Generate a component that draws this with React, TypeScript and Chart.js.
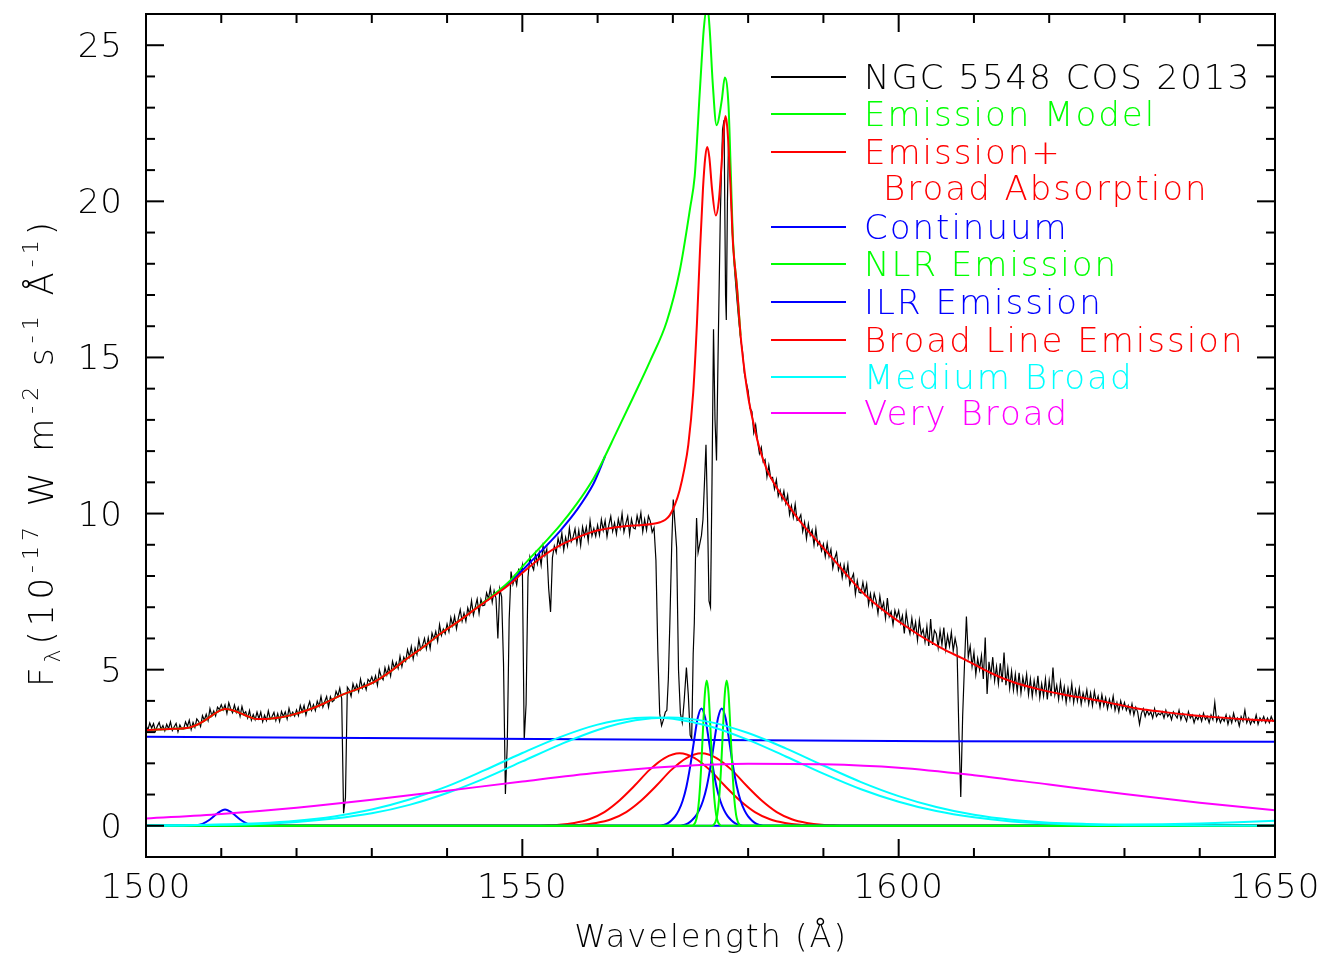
import { useEffect, useRef } from "react";
import { Chart, registerables } from "chart.js";

Chart.register(...registerables);

// ---------- axes ----------
const X_MIN = 1500;
const X_MAX = 1650;
const Y_MIN = -1;
const Y_MAX = 26;
const xMajorTicks = [1500, 1550, 1600, 1650];
const xMinorTicks = [1510, 1520, 1530, 1540, 1560, 1570, 1580, 1590, 1610, 1620, 1630, 1640];
const yMajorTicks = [0, 5, 10, 15, 20, 25];
const yMinorTicks = [1, 2, 3, 4, 6, 7, 8, 9, 11, 12, 13, 14, 16, 17, 18, 19, 21, 22, 23, 24];
const xTitle = "Wavelength (Å)";

// ---------- observed spectrum (black) ----------
const obsAStart = 1500.0;
const obsAStep = 0.25;
const obsAFlux = [
  3.22, 3.07, 3.29, 3.13, 3.27, 3.03, 3.19, 3.31, 3.09, 3.21, 3.04, 3.25, 3.11, 3.33, 3.05, 3.17, 3.28, 3.01, 3.23, 3.10,
  3.10, 3.33, 3.18, 3.38, 3.08, 3.31, 3.15, 3.42, 3.34, 3.18, 3.53, 3.38, 3.57, 3.37, 3.75, 3.52, 3.68, 3.52, 3.80, 3.72,
  3.88, 3.71, 3.87, 3.60, 3.94, 3.75, 3.62, 3.87, 3.63, 3.79, 3.51, 3.82, 3.58, 3.65, 3.45, 3.69, 3.38, 3.56, 3.40, 3.64,
  3.43, 3.64, 3.33, 3.54, 3.37, 3.68, 3.42, 3.50, 3.63, 3.37, 3.59, 3.34, 3.66, 3.50, 3.65, 3.42, 3.76, 3.52, 3.64, 3.51,
  3.71, 3.53, 3.85, 3.65, 3.85, 3.55, 3.79, 3.98, 3.70, 3.88, 3.69, 3.99, 3.83, 4.14, 3.80, 3.98, 4.14, 3.80, 4.13, 3.97,
  4.02, 4.31, 4.16, 4.41, 4.07, 0.40, 0.90, 4.44, 4.35, 4.15, 4.55, 4.34, 4.52, 4.30, 4.70, 4.41, 4.56, 4.36, 4.69, 4.61,
  4.77, 4.58, 4.80, 4.50, 4.99, 4.78, 4.68, 5.06, 4.83, 5.10, 4.80, 5.27, 5.05, 5.23, 5.04, 5.43, 5.10, 5.40, 5.27, 5.64,
  5.41, 5.74, 5.35, 5.69, 5.49, 5.96, 5.64, 5.78, 6.00, 5.67, 6.02, 5.68, 6.17, 5.98, 6.22, 5.91, 6.44, 6.10, 6.30, 6.15,
  6.46, 6.22, 6.67, 6.41, 6.71, 6.31, 6.65, 6.92, 6.55, 6.81, 6.55, 6.98, 6.77, 7.21, 6.75, 7.01, 7.26, 6.80, 7.25, 7.05,
  7.07, 7.46, 7.27, 7.62, 7.16, 7.53, 7.28, 6.00, 7.59, 7.33, 5.20, 1.02, 2.60, 6.60, 8.14, 7.74, 7.98, 7.72, 8.20, 8.09,
  8.34, 2.75, 3.90, 7.96, 8.61, 8.35, 8.20, 8.71, 8.39, 8.75, 8.35, 8.96, 8.65, 8.86, 7.60, 6.85, 8.59, 8.96, 8.75, 9.21,
  8.96, 9.37, 8.83, 9.24, 8.96, 9.53, 9.10, 9.25, 9.51, 9.05, 9.46, 8.98, 9.57, 9.28, 9.57, 9.12, 9.77, 9.29, 9.52, 9.27,
  9.63, 9.31, 9.81, 9.46, 9.77, 9.26, 9.64, 9.91, 9.43, 9.70, 9.35, 9.82, 9.53, 10.00, 9.41, 9.68, 9.91, 9.33, 9.82, 9.54,
  9.51, 9.93, 9.65, 10.02, 9.42, 9.81, 9.47, 9.92, 9.76, 9.40, 9.55, 8.50,
];
const obsCoreWave = [
  1568.0, 1568.25, 1568.5, 1568.75, 1569.0, 1569.2, 1569.4, 1569.6, 1569.85, 1570.05, 1570.3, 1570.5, 1570.75,
  1571.0, 1571.25, 1571.5, 1571.8, 1572.05, 1572.3, 1572.5, 1572.7, 1572.85, 1573.0, 1573.15, 1573.35, 1573.55,
  1573.8, 1574.0, 1574.2, 1574.4, 1574.6, 1574.8, 1575.0, 1575.2, 1575.4, 1575.6, 1575.8, 1576.0, 1576.3, 1576.6,
  1576.8, 1577.0, 1577.1, 1577.25, 1577.4, 1577.6, 1577.9, 1578.2, 1578.5,
];
const obsCoreFlux = [
  5.6, 3.6, 3.21, 3.4, 3.64, 3.7, 4.7, 6.5, 9.0, 10.45, 9.6, 8.9, 5.0,
  3.6, 3.3, 4.0, 5.07, 4.2, 2.9, 2.78, 5.5, 6.5, 8.5, 9.86, 8.75, 9.0,
  9.3, 9.81, 11.0, 12.2, 10.0, 7.2, 7.0, 11.0, 15.9, 13.0, 11.7, 15.0, 19.5, 22.3,
  22.6, 17.0, 16.2, 20.0, 22.0, 21.0, 19.0, 17.8, 16.9,
];
const obsCStart = 1578.75;
const obsCStep = 0.25;
const obsCFlux = [
  16.20, 15.60, 15.20, 14.50, 14.20,
  13.93, 13.37, 13.27, 12.59, 12.84, 12.33, 11.92, 12.12, 11.65, 11.73, 11.18, 11.55, 11.13, 11.16, 10.79, 11.08, 10.56, 10.75, 10.45, 10.72,
  10.32, 10.59, 9.97, 10.25, 9.88, 10.30, 9.78, 9.82, 9.96, 9.43, 9.72, 9.20, 9.66, 9.30, 9.47, 9.00, 9.51, 8.99, 9.11, 8.81,
  9.02, 8.62, 9.04, 8.62, 8.85, 8.26, 8.56, 8.75, 8.19, 8.38, 7.95, 8.35, 7.98, 8.37, 7.72, 7.91, 8.07, 7.42, 7.84, 7.48,
  7.45, 7.80, 7.44, 7.74, 7.09, 7.43, 7.05, 7.44, 7.21, 6.80, 7.36, 6.94, 7.15, 6.65, 7.29, 6.70, 6.86, 6.44, 6.90, 6.67,
  6.89, 6.49, 6.73, 6.16, 6.83, 6.42, 6.16, 6.65, 6.20, 6.52, 5.95, 6.58, 6.13, 6.29, 5.89, 6.38, 5.76, 6.62, 5.79, 6.26,
  6.15, 5.70, 6.25, 5.80, 6.35, 5.65, 6.10, 5.75, 6.20, 5.60, 6.00, 5.70, 3.00, 0.92, 3.50, 5.20, 6.70, 5.40, 5.75, 5.10,
  5.55, 4.85, 5.35, 5.00, 5.45, 4.70, 6.03, 4.22, 5.25, 4.80, 5.40, 4.65, 5.10, 4.55, 5.20, 4.60, 5.55, 4.50, 5.05, 4.40,
  4.95, 4.35, 4.85, 4.30, 4.90, 4.25, 4.75, 4.40, 4.85, 4.20, 4.70, 4.15, 4.65, 4.25, 4.80, 4.10, 4.55, 4.15, 4.70, 4.05,
  4.65, 4.15, 5.07, 4.20, 4.50, 4.05, 4.60, 4.10, 4.45, 3.95, 4.40, 4.05, 4.55, 3.95, 4.35, 4.00, 4.40, 3.90, 4.25, 4.00,
  4.35, 3.90, 4.25, 3.85, 4.30, 3.95, 4.15, 3.80, 4.20, 3.85, 4.10, 3.75, 4.05, 3.80, 4.15, 3.70, 3.95, 3.65, 4.00, 3.75,
  3.95, 3.70, 3.85, 3.60, 3.90, 3.55, 3.80, 3.65, 3.25, 3.60, 3.75, 3.50, 3.70, 3.55, 3.65, 3.45, 3.75, 3.50, 3.60, 3.55,
  3.65, 3.45, 3.70, 3.50, 3.60, 3.40, 3.65, 3.55, 3.45, 3.70, 3.40, 3.60, 3.50, 3.35, 3.65, 3.45, 3.55, 3.30, 3.50, 3.40,
  3.55, 3.35, 3.60, 3.40, 3.50, 3.30, 3.55, 3.40, 3.95, 3.35, 3.50, 3.30, 3.45, 3.35, 3.55, 3.25, 3.50, 3.30, 3.60, 3.35,
  3.45, 3.20, 3.50, 3.35, 3.70, 3.30, 3.45, 3.25, 3.40, 3.30, 3.55, 3.25, 3.45, 3.35, 3.50, 3.30, 3.45, 3.30, 3.50, 3.35, 3.40,
];

// ---------- emission model (green) ----------
const modelWave = [
  1500, 1503, 1505.8, 1507, 1508.1, 1509.3, 1510.5, 1511.5, 1512.5, 1513.6, 1514.7, 1516, 1517.8, 1519.5, 1521.3,
  1523.5, 1525.8, 1528, 1530.2, 1532.4, 1534.6, 1536.8, 1539.1, 1541.7, 1544.4, 1547, 1548.4, 1550.6, 1552.8, 1555.0,
  1557.2, 1559.4, 1560.3, 1562.5, 1564.7, 1567, 1569.2, 1570.9, 1572.3, 1572.9, 1573.2, 1573.5, 1573.8, 1574.1, 1574.57,
  1574.9, 1575.3, 1575.8, 1576.5, 1576.9, 1577.4, 1577.7, 1578.0, 1578.5, 1579.0,
];
const modelFlux = [
  3.07, 3.10, 3.15, 3.26, 3.42, 3.62, 3.74, 3.70, 3.61, 3.50, 3.42, 3.42, 3.47, 3.56, 3.69,
  3.90, 4.17, 4.37, 4.59, 4.93, 5.34, 5.72, 6.15, 6.58, 7.07, 7.56, 7.86, 8.46, 9.03, 9.62,
  10.3, 11.1, 11.5, 12.6, 13.71, 14.9, 16.16, 17.76, 19.8, 20.8, 21.9, 23.2, 24.4, 25.5, 26.3,
  25.48, 23.77, 22.44, 23.24, 23.97, 23.03, 20.9, 18.7, 17.3, 15.7,
];

// ---------- emission + broad absorption (red) ----------
const absWave = [
  1500, 1503, 1505.8, 1507, 1508.1, 1509.3, 1510.5, 1511.5, 1512.5, 1513.6, 1514.7, 1516, 1517.8, 1519.5, 1521.3,
  1523.5, 1525.8, 1528, 1530.2, 1532.4, 1534.6, 1536.8, 1539.1, 1541.7, 1544.4, 1547, 1548.4, 1550.1, 1552.8, 1555.0,
  1557.2, 1559.4, 1561.6, 1563.9, 1566, 1567.4, 1568.3, 1569.0, 1569.6, 1570.3, 1570.9, 1571.5, 1572.05, 1572.7, 1573.2,
  1573.6, 1574.0, 1574.3, 1574.57, 1574.85, 1575.2, 1575.7, 1576.1, 1576.5, 1576.8, 1577.0, 1577.25, 1577.6, 1578.0,
  1578.5, 1579.0, 1579.5, 1580.0, 1580.7, 1581.5, 1582.5, 1583.5, 1585.1, 1586.9, 1588.5, 1591.3, 1595.7, 1600.2,
  1605.5, 1609, 1612.1, 1615, 1618.8, 1622, 1625.4, 1628.8, 1632.1, 1635.4, 1638.7, 1642, 1645.3, 1650,
];
const absFlux = [
  3.07, 3.10, 3.15, 3.26, 3.42, 3.62, 3.74, 3.70, 3.61, 3.50, 3.42, 3.42, 3.47, 3.56, 3.69,
  3.90, 4.17, 4.37, 4.59, 4.93, 5.34, 5.72, 6.15, 6.58, 7.06, 7.5, 7.75, 8.12, 8.65, 8.98,
  9.22, 9.42, 9.53, 9.6, 9.63, 9.67, 9.72, 9.8, 9.95, 10.3, 10.75, 11.4, 12.2, 13.87, 16.1,
  18.4, 20.4, 21.4, 21.74, 21.4, 20.4, 19.55, 20.0, 21.3, 22.4, 22.73, 22.3, 20.8, 18.6,
  17.3, 15.7, 14.6, 13.75, 12.9, 12.1, 11.4, 10.95, 10.35, 9.75, 9.3, 8.54, 7.36, 6.51,
  5.71, 5.3, 4.91, 4.62, 4.36, 4.2, 4.06, 3.9, 3.74, 3.64, 3.55, 3.48, 3.42, 3.36,
];

// ---------- blue model branch seen next to the green model ----------
const branchWave = [1544.4, 1547, 1548.4, 1550.6, 1552.8, 1555.0, 1557.2, 1559.4, 1560.3, 1561.0];
const branchFlux = [7.07, 7.53, 7.80, 8.33, 8.87, 9.44, 10.1, 10.93, 11.42, 11.85];

// ---------- continuum (blue) ----------
const contWave = [1500, 1552, 1605, 1650];
const contFlux = [2.85, 2.78, 2.71, 2.69];

// ---------- NLR emission (green) ----------
const nlr1Wave = [1500, 1572.5, 1572.75, 1573.0, 1573.25, 1573.5, 1573.75, 1574.0, 1574.25, 1574.5, 1574.75, 1575.0, 1575.25, 1575.5, 1575.75, 1576.0, 1576.25, 1576.5, 1650];
const nlr1Flux = [0, 0, 0.03, 0.12, 0.35, 0.89, 1.83, 3.07, 4.22, 4.65, 4.22, 3.07, 1.83, 0.89, 0.35, 0.12, 0.03, 0, 0];
const nlr2Wave = [1500, 1575.15, 1575.4, 1575.65, 1575.9, 1576.15, 1576.4, 1576.65, 1576.9, 1577.15, 1577.4, 1577.65, 1577.9, 1578.15, 1578.4, 1578.65, 1578.9, 1579.15, 1650];
const nlr2Flux = [0, 0, 0.03, 0.12, 0.35, 0.89, 1.83, 3.07, 4.22, 4.65, 4.22, 3.07, 1.83, 0.89, 0.35, 0.12, 0.03, 0, 0];

// ---------- ILR emission (blue) ----------
const ilr1Wave = [1500, 1568.3, 1568.8, 1569.3, 1569.8, 1570.3, 1570.8, 1571.3, 1571.8, 1572.3, 1572.8, 1573.3, 1573.8, 1574.3, 1574.8, 1575.3, 1575.8, 1576.3, 1576.8, 1577.3, 1577.8, 1578.3, 1578.8, 1579.3, 1650];
const ilr1Flux = [0, 0, 0.03, 0.08, 0.17, 0.3, 0.5, 0.8, 1.25, 1.9, 2.7, 3.45, 3.76, 3.45, 2.7, 1.9, 1.25, 0.8, 0.5, 0.3, 0.17, 0.08, 0.03, 0, 0];
const ilr2Wave = [1500, 1571.0, 1571.5, 1572.0, 1572.5, 1573.0, 1573.5, 1574.0, 1574.5, 1575.0, 1575.5, 1576.0, 1576.5, 1577.0, 1577.5, 1578.0, 1578.5, 1579.0, 1579.5, 1580.0, 1580.5, 1581.0, 1581.5, 1582.0, 1650];
const ilr2Flux = [0, 0, 0.03, 0.08, 0.17, 0.3, 0.5, 0.8, 1.25, 1.9, 2.7, 3.45, 3.76, 3.45, 2.7, 1.9, 1.25, 0.8, 0.5, 0.3, 0.17, 0.08, 0.03, 0, 0];
const ilr3Wave = [1500, 1505.5, 1506.5, 1507.5, 1508.5, 1509.5, 1510.5, 1511.5, 1512.5, 1513.5, 1514.5, 1515.5, 1650];
const ilr3Flux = [0, 0, 0.01, 0.06, 0.2, 0.4, 0.52, 0.4, 0.2, 0.06, 0.01, 0, 0];

// ---------- broad line emission (red) ----------
const blr1Wave = [1500, 1550.9, 1552.9, 1554.9, 1556.9, 1558.9, 1560.9, 1562.9, 1564.9, 1566.9, 1568.9, 1570.9, 1572.9, 1574.9, 1576.9, 1578.9, 1580.9, 1582.9, 1584.9, 1586.9, 1588.9, 1590.9, 1650];
const blr1Flux = [0, 0, 0.01, 0.03, 0.09, 0.21, 0.44, 0.81, 1.28, 1.79, 2.17, 2.32, 2.17, 1.79, 1.28, 0.81, 0.44, 0.21, 0.09, 0.03, 0.01, 0, 0];
const blr2Wave = [1500, 1553.8, 1555.8, 1557.8, 1559.8, 1561.8, 1563.8, 1565.8, 1567.8, 1569.8, 1571.8, 1573.8, 1575.8, 1577.8, 1579.8, 1581.8, 1583.8, 1585.8, 1587.8, 1589.8, 1591.8, 1593.8, 1650];
const blr2Flux = [0, 0, 0.01, 0.03, 0.09, 0.21, 0.44, 0.81, 1.28, 1.79, 2.17, 2.32, 2.17, 1.79, 1.28, 0.81, 0.44, 0.21, 0.09, 0.03, 0.01, 0, 0];

// ---------- medium broad (cyan) ----------
const med1Wave = [1500, 1505, 1510, 1515, 1520, 1525, 1530, 1535, 1540, 1545, 1550, 1555, 1560, 1565, 1567, 1570, 1575, 1580, 1585, 1590, 1595, 1600, 1605, 1610, 1615, 1620, 1625, 1630, 1640, 1650];
const med1Flux = [0.01, 0.02, 0.04, 0.08, 0.16, 0.30, 0.52, 0.84, 1.26, 1.78, 2.33, 2.84, 3.24, 3.45, 3.47, 3.43, 3.18, 2.75, 2.22, 1.67, 1.17, 0.77, 0.47, 0.27, 0.14, 0.07, 0.03, 0.02, 0.01, 0.0];
const med2Wave = [1500, 1505, 1510, 1515, 1520, 1525, 1530, 1535, 1540, 1545, 1550, 1555, 1560, 1565, 1569.4, 1575, 1580, 1585, 1590, 1595, 1600, 1605, 1610, 1615, 1620, 1625, 1630, 1635, 1640, 1645, 1650];
const med2Flux = [0.0, 0.01, 0.03, 0.06, 0.12, 0.23, 0.40, 0.67, 1.05, 1.52, 2.06, 2.60, 3.07, 3.38, 3.47, 3.32, 2.97, 2.48, 1.93, 1.40, 0.95, 0.60, 0.35, 0.19, 0.10, 0.06, 0.04, 0.05, 0.07, 0.11, 0.16];

// ---------- very broad (magenta) ----------
const veryWave = [1500, 1510, 1520, 1530, 1540, 1550, 1560, 1570, 1580, 1590, 1600, 1610, 1620, 1630, 1640, 1650];
const veryFlux = [0.23, 0.38, 0.58, 0.83, 1.12, 1.42, 1.70, 1.90, 1.99, 1.97, 1.86, 1.62, 1.32, 1.02, 0.74, 0.50];

// ---------- legend ----------
const legendLabels = [
  "NGC 5548 COS 2013",
  "Emission Model",
  "Emission+",
  "Broad Absorption",
  "Continuum",
  "NLR Emission",
  "ILR Emission",
  "Broad Line Emission",
  "Medium Broad",
  "Very Broad",
];

const COL = {
  black: "#000000",
  green: "#00ff00",
  red: "#ff0000",
  blue: "#0000ff",
  cyan: "#00ffff",
  magenta: "#ff00ff",
};
const legendColors = [COL.black, COL.green, COL.red, COL.red, COL.blue, COL.green, COL.blue, COL.red, COL.cyan, COL.magenta];
const legendHasLine = [true, true, true, false, true, true, true, true, true, true];
const legendRowY = [77, 114, 152, 188, 227, 264, 302, 340, 377, 413];
const legendTextX = [864, 864, 864, 883, 864, 864, 864, 864, 864, 864];

const FONT_FAMILY = '"DejaVu Sans", "Liberation Sans", sans-serif';

function pts(w: number[], f: number[]) {
  return w.map((x, i) => ({ x, y: f[i] }));
}

function gridPts(start: number, step: number, f: number[]) {
  return f.map((y, i) => ({ x: start + i * step, y }));
}

const framePlugin = {
  id: "pgplotFrame",
  afterDraw(chart: any) {
    const ctx: CanvasRenderingContext2D = chart.ctx;
    const { left, right, top, bottom } = chart.chartArea;
    const xs = chart.scales.x;
    const ys = chart.scales.y;
    ctx.save();
    ctx.strokeStyle = "#000";
    ctx.lineWidth = 2;
    ctx.strokeRect(left, top, right - left, bottom - top);

    const tick = (x1: number, y1: number, x2: number, y2: number) => {
      ctx.beginPath();
      ctx.moveTo(x1, y1);
      ctx.lineTo(x2, y2);
      ctx.stroke();
    };
    const MAJ = 18;
    const MIN = 9;
    for (const v of xMajorTicks) {
      const px = xs.getPixelForValue(v);
      tick(px, bottom, px, bottom - MAJ);
      tick(px, top, px, top + MAJ);
    }
    for (const v of xMinorTicks) {
      const px = xs.getPixelForValue(v);
      tick(px, bottom, px, bottom - MIN);
      tick(px, top, px, top + MIN);
    }
    for (const v of yMajorTicks) {
      const py = ys.getPixelForValue(v);
      tick(left, py, left + MAJ, py);
      tick(right, py, right - MAJ, py);
    }
    for (const v of yMinorTicks) {
      const py = ys.getPixelForValue(v);
      tick(left, py, left + MIN, py);
      tick(right, py, right - MIN, py);
    }

    // tick labels
    ctx.fillStyle = "#000";
    ctx.font = `200 34px ${FONT_FAMILY}`;
    (ctx as any).letterSpacing = "1px";
    ctx.textBaseline = "alphabetic";
    ctx.textAlign = "center";
    for (const v of xMajorTicks) {
      ctx.fillText(String(v), xs.getPixelForValue(v), 898);
    }
    ctx.textAlign = "right";
    for (const v of yMajorTicks) {
      ctx.fillText(String(v), 123, ys.getPixelForValue(v) + 12);
    }

    // x title
    ctx.font = `200 32px ${FONT_FAMILY}`;
    (ctx as any).letterSpacing = "2px";
    ctx.textAlign = "center";
    ctx.fillText(xTitle, 711, 947);

    // y title with sub/superscripts
    const parts: [string, number, number][] = [
      ["F", 34, 0],
      ["λ", 22, 7],
      ["(10", 34, 0],
      ["-17", 22, -15],
      [" W m", 34, 0],
      ["-2", 22, -15],
      [" s", 34, 0],
      ["-1", 22, -15],
      [" Å", 34, 0],
      ["-1", 22, -15],
      [")", 34, 0],
    ];
    ctx.textAlign = "left";
    (ctx as any).letterSpacing = "5px";
    let total = 0;
    for (const [t, s] of parts) {
      ctx.font = `200 ${s}px ${FONT_FAMILY}`;
      total += ctx.measureText(t).width;
    }
    ctx.save();
    ctx.translate(53, 452 + total / 2);
    ctx.rotate(-Math.PI / 2);
    let cx = 0;
    for (const [t, s, dy] of parts) {
      ctx.font = `200 ${s}px ${FONT_FAMILY}`;
      ctx.fillText(t, cx, dy);
      cx += ctx.measureText(t).width;
    }
    ctx.restore();

    // legend
    ctx.font = `200 34px ${FONT_FAMILY}`;
    (ctx as any).letterSpacing = "2px";
    ctx.textAlign = "left";
    legendLabels.forEach((label, i) => {
      const y = legendRowY[i];
      ctx.strokeStyle = legendColors[i];
      ctx.fillStyle = legendColors[i];
      if (legendHasLine[i]) {
        ctx.lineWidth = 2;
        tick(771, y, 846, y);
      }
      ctx.fillText(label, legendTextX[i], y + 12);
    });
    ctx.restore();
  },
};

function line(data: { x: number; y: number }[], color: string, width: number, smooth: boolean) {
  return {
    data,
    borderColor: color,
    backgroundColor: color,
    borderWidth: width,
    pointRadius: 0,
    fill: false,
    tension: 0,
    cubicInterpolationMode: smooth ? ("monotone" as const) : ("default" as const),
  };
}

export default function App() {
  const ref = useRef<HTMLCanvasElement>(null);
  useEffect(() => {
    document.body.style.margin = "0";
    const obs = [
      ...gridPts(obsAStart, obsAStep, obsAFlux),
      ...pts(obsCoreWave, obsCoreFlux),
      ...gridPts(obsCStart, obsCStep, obsCFlux),
    ];
    const chart = new Chart(ref.current as HTMLCanvasElement, {
      type: "line",
      data: {
        datasets: [
          line(pts(veryWave, veryFlux), COL.magenta, 2, true),
          line(pts(med1Wave, med1Flux), COL.cyan, 2, true),
          line(pts(med2Wave, med2Flux), COL.cyan, 2, true),
          line(pts(nlr1Wave, nlr1Flux), COL.green, 2, true),
          line(pts(nlr2Wave, nlr2Flux), COL.green, 2, true),
          line(pts(ilr1Wave, ilr1Flux), COL.blue, 2, true),
          line(pts(ilr2Wave, ilr2Flux), COL.blue, 2, true),
          line(pts(ilr3Wave, ilr3Flux), COL.blue, 2, true),
          line(pts(blr1Wave, blr1Flux), COL.red, 2, true),
          line(pts(blr2Wave, blr2Flux), COL.red, 2, true),
          line(pts(contWave, contFlux), COL.blue, 2, false),
          line(pts(absWave, absFlux), COL.red, 2, true),
          line(pts(modelWave, modelFlux), COL.green, 2, true),
          line(pts(branchWave, branchFlux), COL.blue, 2, true),
          line(obs, COL.black, 1.2, false),
        ] as any,
      },
      options: {
        responsive: false,
        animation: false,
        devicePixelRatio: 1,
        layout: { padding: { left: 146, top: 14, right: 50, bottom: 98 } },
        scales: {
          x: { type: "linear", min: X_MIN, max: X_MAX, display: false },
          y: { type: "linear", min: Y_MIN, max: Y_MAX, display: false },
        },
        plugins: { legend: { display: false }, tooltip: { enabled: false } },
        elements: { point: { radius: 0 } },
      },
      plugins: [framePlugin],
    });
    return () => chart.destroy();
  }, []);
  return (
    <div style={{ position: "absolute", left: 0, top: 0, width: 1325, height: 955, background: "#fff", overflow: "hidden" }}>
      <canvas ref={ref} width={1325} height={955} style={{ display: "block", width: 1325, height: 955 }} />
    </div>
  );
}
